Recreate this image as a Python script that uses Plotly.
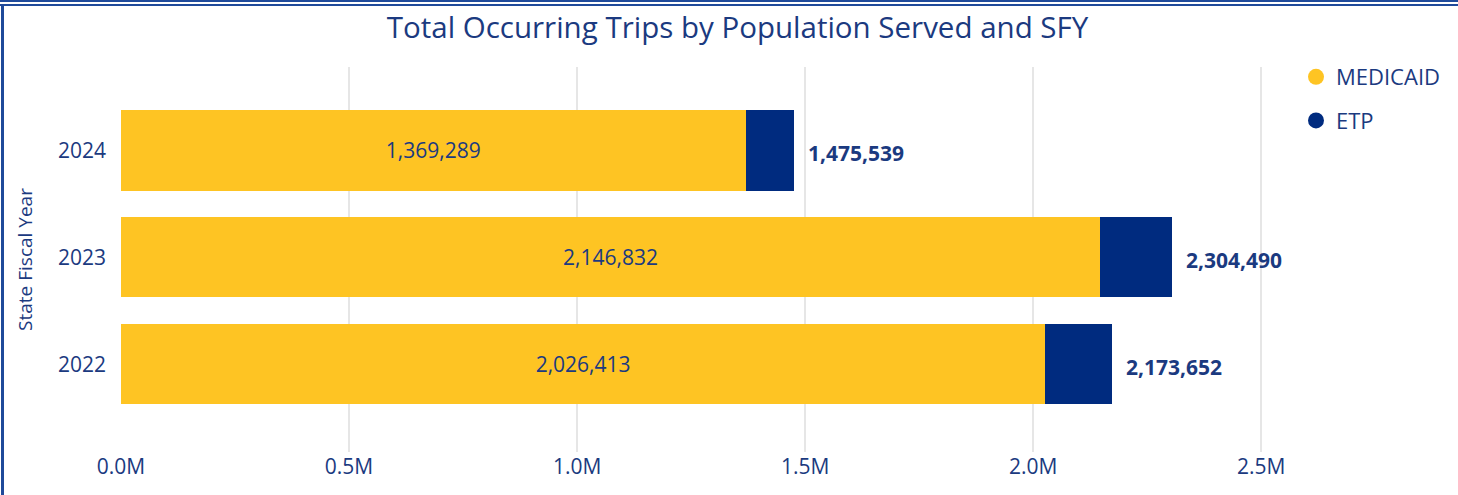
import plotly.graph_objects as go

years = ["2022", "2023", "2024"]
medicaid = [2026413, 2146832, 1369289]
totals = [2173652, 2304490, 1475539]
etp = [t - m for t, m in zip(totals, medicaid)]
x_ticks = [0, 500000, 1000000, 1500000, 2000000, 2500000]
x_tick_labels = ["0.0M", "0.5M", "1.0M", "1.5M", "2.0M", "2.5M"]

YELLOW = "#FEC423"
NAVY = "#002B7F"
TEXT = "#1B3A80"
FONT = "Open Sans"

fig = go.Figure()
fig.add_trace(go.Bar(
    y=years, x=medicaid, orientation="h", name="MEDICAID",
    marker=dict(color=YELLOW, line=dict(width=0)),
    text=[f"{v:,}" for v in medicaid], textposition="inside",
    insidetextanchor="middle",
    textfont=dict(color=TEXT, size=21, family=FONT),
    showlegend=False, hoverinfo="x+y",
))
fig.add_trace(go.Bar(
    y=years, x=etp, orientation="h", name="ETP",
    marker=dict(color=NAVY, line=dict(width=0)),
    showlegend=False, hoverinfo="x+y",
))
# legend entries with circle symbols
fig.add_trace(go.Scatter(x=[None], y=[None], mode="markers", name="MEDICAID",
                         marker=dict(symbol="circle", size=17, color=YELLOW),
                         legendgroup="a"))
fig.add_trace(go.Scatter(x=[None], y=[None], mode="markers", name="ETP",
                         marker=dict(symbol="circle", size=17, color=NAVY),
                         legendgroup="b"))

# total labels (category axis addressed by category index)
annotations = [
    dict(x=t, y=i, xref="x", yref="y", text=f"<b>{t:,}</b>",
         showarrow=False, xanchor="left", yanchor="middle",
         xshift=12, yshift=-3,
         font=dict(color=TEXT, size=21, family=FONT))
    for i, t in enumerate(totals)
]

L, R, T, B = 121, 174, 67, 43
W, H = 1458, 495
pw, ph = W - L - R, H - T - B

def px_x(px):
    return (px - L) / pw

def px_y(py):
    return (H - B - py) / ph

BORDER = "#1F4A9A"
shapes = [
    dict(type="line", xref="paper", yref="paper", x0=px_x(0), x1=px_x(W),
         y0=px_y(1), y1=px_y(1), line=dict(color=BORDER, width=2)),
    dict(type="line", xref="paper", yref="paper", x0=px_x(0), x1=px_x(W),
         y0=px_y(5), y1=px_y(5), line=dict(color=BORDER, width=2)),
    dict(type="line", xref="paper", yref="paper", x0=px_x(2.5), x1=px_x(2.5),
         y0=px_y(5), y1=px_y(W), line=dict(color=BORDER, width=3)),
]

fig.update_layout(
    width=W, height=H,
    barmode="stack", bargap=0.25,
    plot_bgcolor="white", paper_bgcolor="white",
    margin=dict(l=L, r=R, t=T, b=B, autoexpand=False),
    font=dict(family=FONT, color=TEXT),
    title=dict(text="Total Occurring Trips by Population Served and SFY",
               x=737.5 / W, xref="container", xanchor="center",
               y=1 - 28 / H, yanchor="middle", yref="container",
               font=dict(size=29.5, color=TEXT, family=FONT)),
    xaxis=dict(range=[0, 2550000], tickvals=x_ticks, ticktext=x_tick_labels,
               showgrid=True, gridcolor="#E6E6E6", gridwidth=2,
               zeroline=False, showline=False, ticks="",
               tickfont=dict(size=21, color=TEXT, family=FONT)),
    yaxis=dict(type="category", categoryorder="array", categoryarray=years,
               range=[-0.82, 2.78], showgrid=False, zeroline=False,
               ticks="", ticklabelstandoff=14,
               tickfont=dict(size=21, color=TEXT, family=FONT),
               title=dict(text="State Fiscal Year", standoff=20,
                          font=dict(size=19, color=TEXT, family=FONT))),
    legend=dict(x=px_x(1296), y=px_y(56), xanchor="left", yanchor="top",
                font=dict(size=22, color=TEXT, family=FONT),
                tracegroupgap=12, traceorder="grouped",
                bgcolor="rgba(0,0,0,0)", itemwidth=30),
    annotations=annotations,
    shapes=shapes,
)

fig.write_html("out.html")
